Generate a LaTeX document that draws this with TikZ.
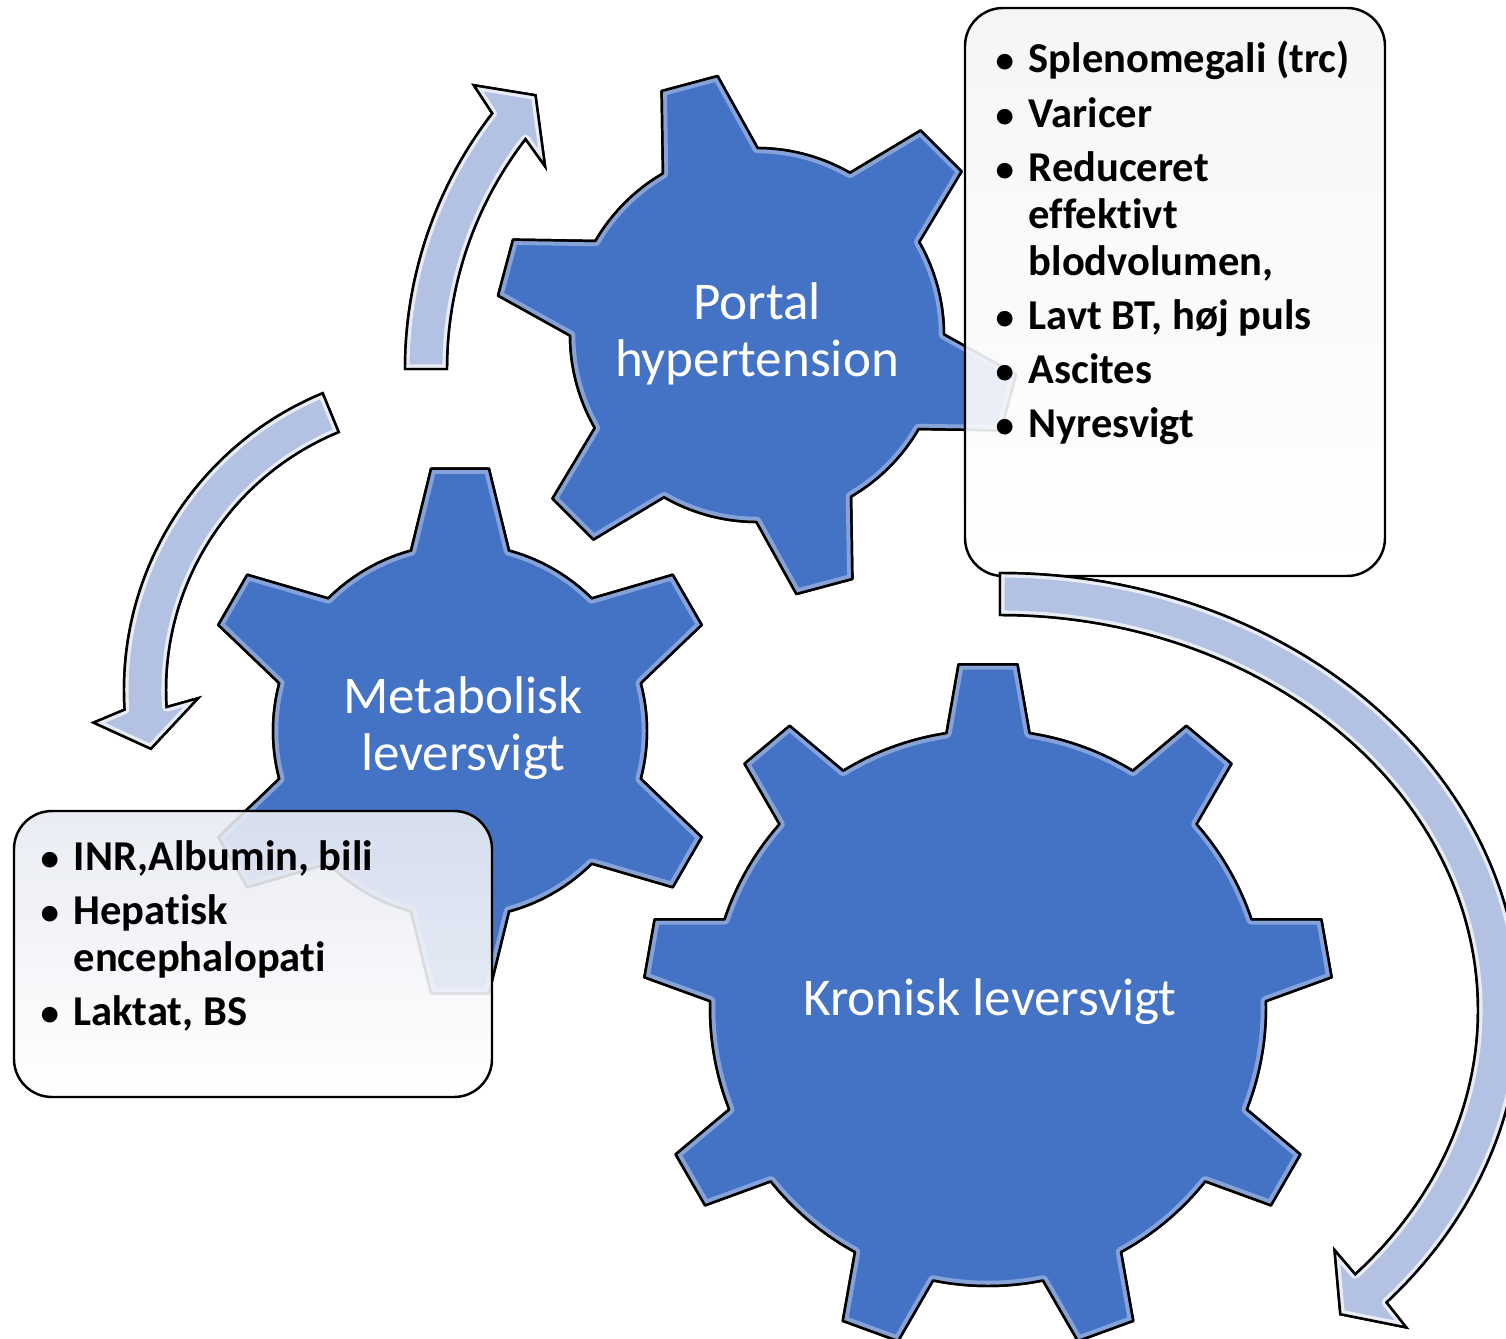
\documentclass[tikz,border=0pt]{standalone}
\usepackage{fontspec}
\setmainfont{Carlito}[Ligatures=NoCommon]
\usepackage{xcolor}
\definecolor{gearblue}{HTML}{4472C4}
\definecolor{arrowblue}{HTML}{B3C2E2}
\definecolor{boxtop}{HTML}{E7EAF2}
\definecolor{boxgrey}{HTML}{F3F4F6}
\newcommand{\blt}{{\fontsize{10.5}{10}\selectfont\textbullet}}

\begin{document}
\begin{tikzpicture}[
  gear/.style={fill=gearblue, draw=black, line width=0.7pt, line join=round},
  rim/.style={draw=white, opacity=0.35, line width=3pt, line join=round},
  cyc/.style={fill=arrowblue, draw=black, line width=0.7pt, line join=miter},
  cycrim/.style={draw=white, opacity=0.7, line width=2.6pt, line join=round},
  box/.style={draw=black, line width=0.7pt, rounded corners=0.38cm, top color=boxtop, bottom color=white, fill opacity=0.9, inner sep=0pt},
  geartext/.style={text=white, align=center, font=\fontsize{15.1}{16.3}\selectfont},
  listtext/.style={font=\fontsize{12.1}{13.4}\selectfont\bfseries, anchor=base west, inner sep=0pt}]
\useasboundingbox (0,0) rectangle (15.06,13.38);
\clip (0,0) rectangle (15.06,13.38);

% gears: centre / teeth / first tooth / root radius / tip radius / half angles
\foreach \gx/\gy/\gn/\ga/\rb/\rt/\bh/\th in {7.57/10.03/6/45/1.87/2.62/15.2/6.35,
    4.60/6.07/6/30/1.87/2.64/15.2/6.3, 9.88/3.30/9/10/2.78/3.45/8.6/4.9}{
  \pgfmathsetmacro\sp{360/\gn}
  \pgfmathtruncatemacro\gl{\gn-1}
  \begin{scope}[shift={(\gx,\gy)}]
    \path[save path=\gearp] ({\ga-\bh}:\rb)
      \foreach \k [evaluate=\k as \a using \ga+\k*\sp] in {0,...,\gl}{
        -- ({\a-\th}:\rt) -- ({\a+\th}:\rt) -- ({\a+\bh}:\rb)
        arc[start angle={\a+\bh}, end angle={\a+\sp-\bh}, radius=\rb]} -- cycle;
    \fill[gear, use path=\gearp];
    \begin{scope}
      \clip[use path=\gearp];
      \draw[rim, use path=\gearp];
    \end{scope}
    \draw[gear, fill=none, use path=\gearp];
  \end{scope}
}

\node[geartext] (portal) at (7.57,10.04) {Portal\\hypertension};
\node[geartext] (metab) at (4.63,6.10) {Metabolisk\\leversvigt};
\node[geartext] (kronisk) at (9.90,3.36) {Kronisk leversvigt};

% boxes with the signs
\node[box, top color=boxgrey, minimum width=4.20cm, minimum height=5.68cm] (phbox) at (11.75,10.46) {};
\node[box, minimum width=4.78cm, minimum height=2.86cm] (mlbox) at (2.53,3.84) {};

\node[listtext] (phlist) at (9.95,12.65) {\begin{tabular}[t]{@{}p{0.33cm}@{}l@{}}
\blt & Splenomegali (trc)\\[0.07cm]
\blt & Varicer\\[0.07cm]
\blt & Reduceret\\
 & effektivt\\
 & blodvolumen,\\[0.07cm]
\blt & Lavt BT, høj puls\\[0.07cm]
\blt & Ascites\\[0.07cm]
\blt & Nyresvigt
\end{tabular}};

\node[listtext] (mllist) at (0.40,4.68) {\begin{tabular}[t]{@{}p{0.33cm}@{}l@{}}
\blt & INR,Albumin, bili\\[0.07cm]
\blt & Hepatisk\\
 & encephalopati\\[0.07cm]
\blt & Laktat, BS
\end{tabular}};

% cycle arrows: centre / radii / start / shaft end / outer and inner barb / tip
\foreach \cx/\cy/\rx/\ry/\sa/\ba/\oa/\ia/\ta in {8.23/9.69/3.97/3.97/180/142.3/140.9/143.9/136.4,
    4.45/6.48/3.00/3.00/112.4/183.5/185.3/181.9/191.3,
    10.00/3.28/4.99/4.16/90/-42/-42.6/-41.4/-47}{
  \pgfmathsetmacro\rxo{\rx+0.21}\pgfmathsetmacro\ryo{\ry+0.21}
  \pgfmathsetmacro\rxi{\rx-0.21}\pgfmathsetmacro\ryi{\ry-0.21}
  \pgfmathsetmacro\rxh{\rx+0.53}\pgfmathsetmacro\ryh{\ry+0.53}
  \pgfmathsetmacro\rxl{\rx-0.53}\pgfmathsetmacro\ryl{\ry-0.53}
  \begin{scope}[shift={(\cx,\cy)}]
    \path[save path=\arrp] (\sa:\rxo cm and \ryo cm)
      arc[start angle=\sa, end angle=\ba, x radius=\rxo cm, y radius=\ryo cm]
      -- (\oa:\rxh cm and \ryh cm) -- (\ta:\rx cm and \ry cm) -- (\ia:\rxl cm and \ryl cm)
      -- (\ba:\rxi cm and \ryi cm)
      arc[start angle=\ba, end angle=\sa, x radius=\rxi cm, y radius=\ryi cm] -- cycle;
    \fill[cyc, use path=\arrp];
    \begin{scope}
      \clip[use path=\arrp];
      \draw[cycrim, use path=\arrp];
    \end{scope}
    \draw[cyc, fill=none, use path=\arrp];
  \end{scope}
}
\end{tikzpicture}
\end{document}
